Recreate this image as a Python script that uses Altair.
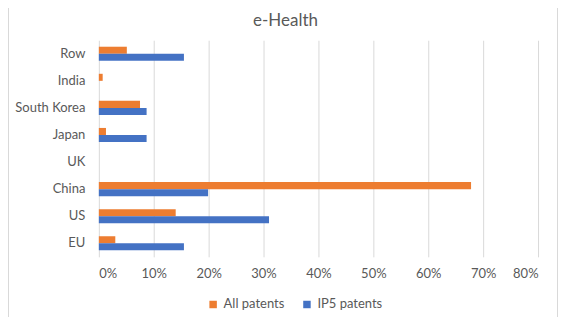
import altair as alt
import pandas as pd

title_text = "e-Health"
countries = ["Row", "India", "South Korea", "Japan", "UK", "China", "US", "EU"]
all_patents = [0.051, 0.007, 0.075, 0.013, 0.0, 0.678, 0.140, 0.030]
ip5_patents = [0.155, 0.0, 0.087, 0.087, 0.0, 0.199, 0.310, 0.155]
series = ["All patents", "IP5 patents"]
colors = ["#ED7D31", "#4472C4"]

rows = []
for c, a, b in zip(countries, all_patents, ip5_patents):
    rows.append({"country": c, "series": series[0], "value": a})
    rows.append({"country": c, "series": series[1], "value": b})
df = pd.DataFrame(rows)

FONT = "Lato"
GREY = "#595959"

bars = alt.Chart(df).mark_bar().encode(
    x=alt.X("value:Q",
            scale=alt.Scale(domain=[0, 0.8], nice=False),
            axis=alt.Axis(format=".0%", values=[0, .1, .2, .3, .4, .5, .6, .7, .8],
                          title=None, ticks=False, domain=False, grid=True,
                          gridColor="#d9d9d9", labelPadding=11, labelFontSize=13,
                          labelColor=GREY, labelFont=FONT)),
    y=alt.Y("country:N", sort=countries,
            scale=alt.Scale(paddingInner=0.48, paddingOuter=0.24),
            axis=alt.Axis(title=None, ticks=False, domain=False, grid=False,
                          labelPadding=14, labelFontSize=13, labelColor=GREY,
                          labelFont=FONT)),
    yOffset=alt.YOffset("series:N", sort=series),
    color=alt.Color("series:N", sort=series,
                    scale=alt.Scale(domain=series, range=colors),
                    legend=alt.Legend(title=None, orient="none", direction="horizontal",
                                      legendX=108, legendY=258, symbolType="square",
                                      symbolSize=56, symbolStrokeWidth=0,
                                      labelOffset=4, columnPadding=16,
                                      labelFontSize=13, labelColor=GREY,
                                      labelFont=FONT)),
)

border = alt.Chart(pd.DataFrame({"a": [0]})).mark_rect(
    fill=None, stroke="#d9d9d9", strokeWidth=1, clip=False
).encode(
    x=alt.value(-90.5), x2=alt.value(459.5),
    y=alt.value(-40), y2=alt.value(281.5)
)

title = alt.Chart(pd.DataFrame({"t": [title_text]})).mark_text(
    font=FONT, fontSize=17, color=GREY, align="center", baseline="alphabetic"
).encode(
    text="t:N", x=alt.value(187), y=alt.value(-14)
)

chart = alt.layer(border, bars, title).properties(
    width=440, height=217,
    padding={"left": 91, "top": 32, "right": 20, "bottom": 60},
    autosize=alt.AutoSizeParams(type="none"),
).configure_view(stroke=None)

chart.save("out.html", embed_options={"renderer": "svg", "actions": False})
